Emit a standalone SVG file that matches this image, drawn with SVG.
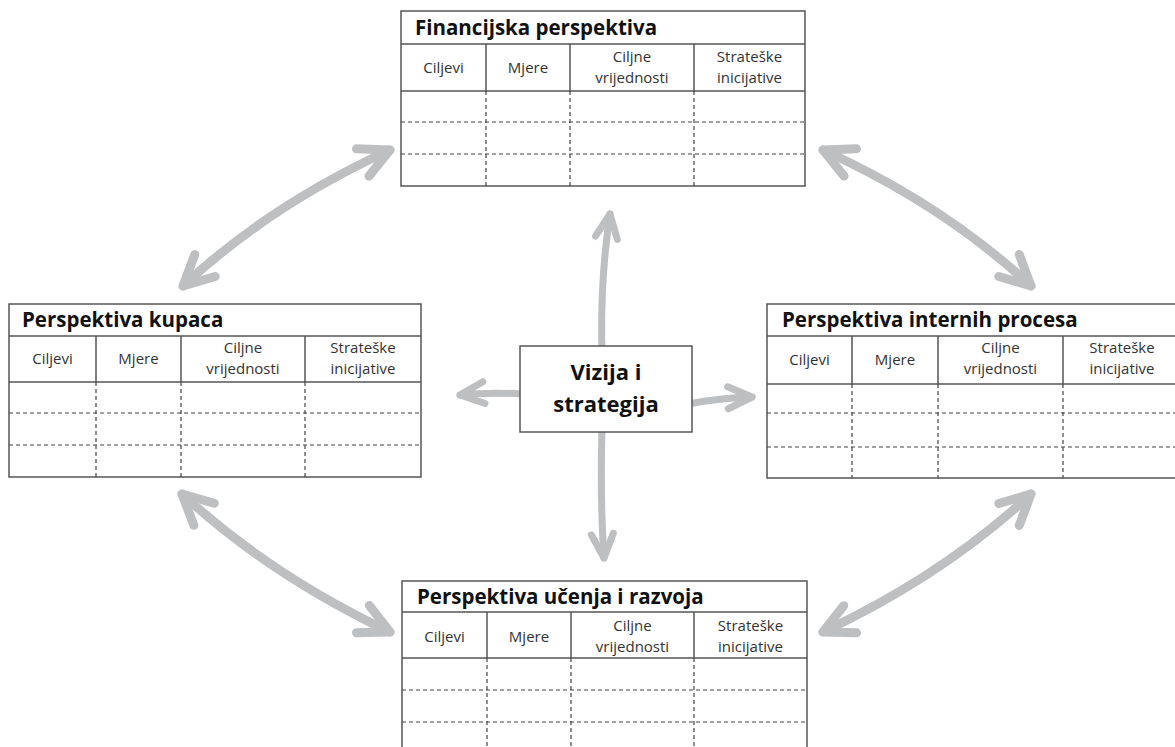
<svg xmlns="http://www.w3.org/2000/svg" width="1175" height="747" viewBox="0 0 1175 747">
<style>
.frame{fill:#fff;stroke:#555;stroke-width:1.5}
.solid{stroke:#555;stroke-width:1.5;fill:none}
.dash{stroke:#444;stroke-width:1.2;stroke-dasharray:4 3;fill:none}
.title{font-family:"Open Sans","Liberation Sans",sans-serif;font-weight:bold;font-size:20.5px;fill:#111}
.hdr{font-family:"Open Sans","Liberation Sans",sans-serif;font-size:15px;fill:#333;text-anchor:middle}
.center{font-family:"Open Sans","Liberation Sans",sans-serif;font-weight:bold;font-size:22px;fill:#111;text-anchor:middle}
.arrow{stroke:#bebfc1;stroke-width:9;fill:none;stroke-linecap:round}
.arrowS{stroke:#bebfc1;stroke-width:7;fill:none;stroke-linecap:round}
</style>
<defs>
<marker id="head" markerUnits="userSpaceOnUse" orient="auto-start-reverse" refX="0" refY="0" markerWidth="80" markerHeight="80" viewBox="-40 -40 80 80" overflow="visible">
<path d="M-30,-15 L0,0 L-30,15" stroke="#bebfc1" stroke-width="9" fill="none" stroke-linecap="round" stroke-linejoin="round"/>
</marker>
<marker id="headS" markerUnits="userSpaceOnUse" orient="auto-start-reverse" refX="0" refY="0" markerWidth="80" markerHeight="80" viewBox="-40 -40 80 80" overflow="visible">
<path d="M-24,-11 L0,0 L-24,11" stroke="#bebfc1" stroke-width="7" fill="none" stroke-linecap="round" stroke-linejoin="round"/>
</marker>
</defs>
<rect width="1175" height="747" fill="#fff"/>

<g id="connectors">
<path class="arrow" d="M183,286 Q270,205 390,150" marker-start="url(#head)" marker-end="url(#head)"/>
<path class="arrow" d="M823,150 Q944,205 1031,286" marker-start="url(#head)" marker-end="url(#head)"/>
<path class="arrow" d="M182,494 Q270,575 390,632" marker-start="url(#head)" marker-end="url(#head)"/>
<path class="arrow" d="M823,632 Q944,575 1031,494" marker-start="url(#head)" marker-end="url(#head)"/>
<path class="arrowS" d="M602,350 Q600,280 610,214" marker-end="url(#headS)"/>
<path class="arrowS" d="M602,428 Q600,500 604,558" marker-end="url(#headS)"/>
<path class="arrowS" d="M524,394 Q490,392 460,395" marker-end="url(#headS)"/>
<path class="arrowS" d="M688,404 Q720,398 752,397" marker-end="url(#headS)"/>
</g>

<g id="vizija">
<rect class="frame" x="520" y="346" width="172" height="86"/>
<text class="center" x="606" y="380">Vizija i</text>
<text class="center" x="606" y="412">strategija</text>
</g>

<g id="financijska">
<rect class="frame" x="401" y="11" width="404" height="175"/>
<path class="solid" d="M401,44H805M401,91H805M486,44V91M570,44V91M694,44V91"/>
<path class="dash" d="M401,122H805M401,154H805M486,91V186M570,91V186M694,91V186"/>
<text class="title" x="415" y="35">Financijska perspektiva</text>
<text class="hdr" x="443.5" y="73">Ciljevi</text>
<text class="hdr" x="528" y="73">Mjere</text>
<text class="hdr" x="632" y="62">Ciljne</text>
<text class="hdr" x="632" y="83">vrijednosti</text>
<text class="hdr" x="749.5" y="62">Strateške</text>
<text class="hdr" x="749.5" y="83">inicijative</text>
</g>

<g id="kupaca">
<rect class="frame" x="9" y="304" width="412" height="173"/>
<path class="solid" d="M9,336H421M9,382H421M96,336V382M181,336V382M305,336V382"/>
<path class="dash" d="M9,413H421M9,445H421M96,382V477M181,382V477M305,382V477"/>
<text class="title" x="22" y="327">Perspektiva kupaca</text>
<text class="hdr" x="52.5" y="364">Ciljevi</text>
<text class="hdr" x="138.5" y="364">Mjere</text>
<text class="hdr" x="243" y="353">Ciljne</text>
<text class="hdr" x="243" y="374">vrijednosti</text>
<text class="hdr" x="363" y="353">Strateške</text>
<text class="hdr" x="363" y="374">inicijative</text>
</g>

<g id="interni">
<rect class="frame" x="767" y="304" width="420" height="174"/>
<path class="solid" d="M767,336H1187M767,384H1187M852,336V384M938,336V384M1063,336V384"/>
<path class="dash" d="M767,413H1187M767,447H1187M852,384V478M938,384V478M1063,384V478"/>
<text class="title" x="782" y="327">Perspektiva internih procesa</text>
<text class="hdr" x="809.5" y="365">Ciljevi</text>
<text class="hdr" x="895" y="365">Mjere</text>
<text class="hdr" x="1000.5" y="353">Ciljne</text>
<text class="hdr" x="1000.5" y="374">vrijednosti</text>
<text class="hdr" x="1122" y="353">Strateške</text>
<text class="hdr" x="1122" y="374">inicijative</text>
</g>

<g id="ucenje">
<rect class="frame" x="402" y="581" width="405" height="180"/>
<path class="solid" d="M402,612H807M402,658H807M487,612V658M571,612V658M694,612V658"/>
<path class="dash" d="M402,690H807M402,722H807M487,658V761M571,658V761M694,658V761"/>
<text class="title" x="417" y="604">Perspektiva učenja i razvoja</text>
<text class="hdr" x="444.5" y="642">Ciljevi</text>
<text class="hdr" x="529" y="642">Mjere</text>
<text class="hdr" x="632.5" y="631">Ciljne</text>
<text class="hdr" x="632.5" y="652">vrijednosti</text>
<text class="hdr" x="750.5" y="631">Strateške</text>
<text class="hdr" x="750.5" y="652">inicijative</text>
</g>
</svg>
